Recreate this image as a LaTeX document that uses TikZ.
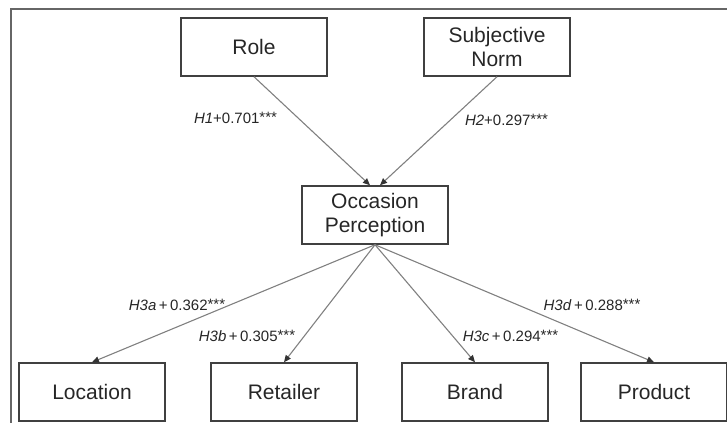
\documentclass[tikz,border=0pt]{standalone}
\usepackage{fontspec}
\setmainfont{Liberation Sans}
\usetikzlibrary{arrows.meta}

\newcommand{\stars}{\raisebox{1pt}{***}}

\begin{document}
\begin{tikzpicture}[x=1pt, y=-1pt,
  block/.style={rectangle, draw=black!75, line width=1.5pt, align=center,
                minimum width=146pt, minimum height=58pt, text=black!85,
                font=\fontsize{21}{24}\selectfont},
  arrow/.style={draw=black!50, line width=1.1pt,
                -{Triangle[length=7pt, width=6pt, color=black!80]}},
  coef/.style={font=\fontsize{15}{18}\selectfont, text=black!85}
]
\useasboundingbox (0,0) rectangle (727,423);
% outer frame (cut by the page)
\draw[black!60, line width=1.4pt] (727,9) -- (11,9) -- (11,423);

\node[block] (role) at (254,47) {Role};
\node[block] (norm) at (497,47) {Subjective\\Norm};
\node[block] (occ) at (375,215) {Occasion\\Perception};
\node[block] (loc) at (92,392) {Location};
\node[block] (ret) at (284,392) {Retailer};
\node[block] (brand) at (475,392) {Brand};
\node[block] (prod) at (654,392) {Product};

\draw[arrow] (role.south) -- ([xshift=-5pt]occ.north);
\draw[arrow] (norm.south) -- ([xshift=5pt]occ.north);
\draw[arrow] (occ.south) -- (loc.north);
\draw[arrow] (occ.south) -- (ret.north);
\draw[arrow] (occ.south) -- (brand.north);
\draw[arrow] (occ.south) -- (prod.north);

\node[coef] (h1) at (235.5,118) {\textit{H1}+0.701\stars};
\node[coef] (h2) at (506.5,120) {\textit{H2}+0.297\stars};
\node[coef] (h3a) at (177,305) {\textit{H3a}\,+\,0.362\stars};
\node[coef] (h3b) at (247,336) {\textit{H3b}\,+\,0.305\stars};
\node[coef] (h3c) at (510.5,336) {\textit{H3c}\,+\,0.294\stars};
\node[coef] (h3d) at (592,305) {\textit{H3d}\,+\,0.288\stars};
\end{tikzpicture}
\end{document}
